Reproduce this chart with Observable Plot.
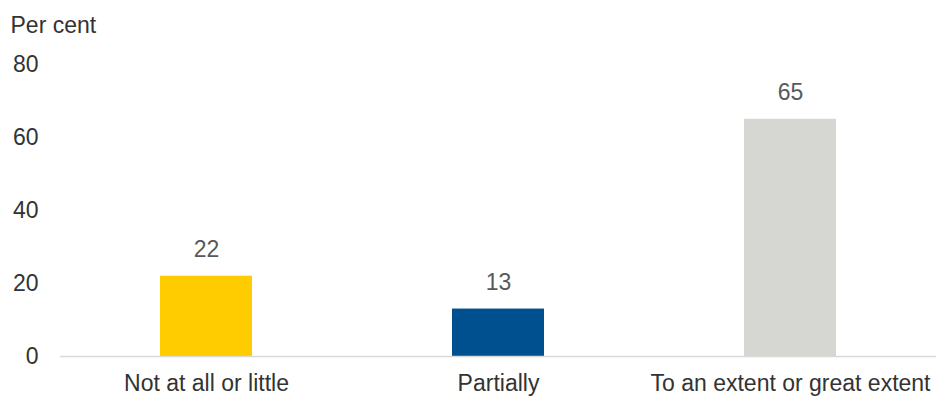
<!DOCTYPE html>
<html>
<head>
<meta charset="utf-8">
<script src="https://cdn.jsdelivr.net/npm/d3@7"></script>
<script src="https://cdn.jsdelivr.net/npm/@observablehq/plot@0.6"></script>
<style>
  body { margin: 0; background: #fff; }
  svg { display: block; overflow: visible; }
</style>
</head>
<body>
<div id="chart"></div>
<script>
const categories = ["Not at all or little", "Partially", "To an extent or great extent"];
const values = [22, 13, 65];
const barColors = ["#FFCC00", "#00508F", "#D6D6D2"];
const yTicks = [0, 20, 40, 60, 80];
const yLabel = "Per cent";

const data = categories.map((c, i) => ({category: c, value: values[i], color: barColors[i]}));

const chart = Plot.plot({
  width: 936,
  height: 397,
  marginLeft: 60,
  marginRight: 0,
  marginTop: 64,
  marginBottom: 41,
  style: {fontFamily: "'Liberation Sans', Arial, sans-serif", fontSize: "23px", color: "#333"},
  x: {domain: categories, paddingInner: 0.685, paddingOuter: 0.3425, label: null, tickSize: 0, tickPadding: 18},
  y: {domain: [0, 80], ticks: yTicks, label: null, tickSize: 0, tickPadding: 22},
  marks: [
    Plot.barY(data, {x: "category", y: "value", fill: "color"}),
    Plot.ruleY([0], {stroke: "#D9D9D9", strokeWidth: 1.5}),
    Plot.text(data, {x: "category", y: "value", text: d => String(d.value), lineAnchor: "bottom", dy: -19, fill: "#595959", fontSize: 23}),
    Plot.text([yLabel], {frameAnchor: "top-left", text: d => d, textAnchor: "start", lineAnchor: "middle", dx: -50, dy: -39, fill: "#333", fontSize: 23})
  ]
});
document.getElementById("chart").appendChild(chart);
</script>
</body>
</html>
